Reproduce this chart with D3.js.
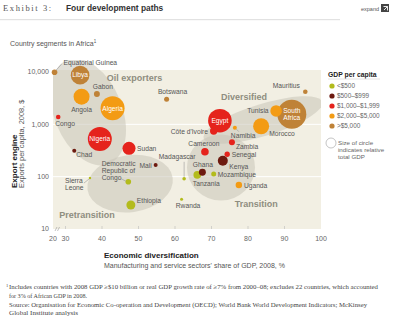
<!DOCTYPE html>
<html>
<head>
  <meta charset="utf-8">
  <script src="https://cdn.jsdelivr.net/npm/d3@7"></script>
  <style>
    body { margin: 0; background: #fff; }
    text { font-family: "Liberation Sans", Arial, sans-serif; }
    .serif { font-family: "Liberation Serif", "Times New Roman", serif; }
  </style>
</head>
<body>
<script>
  // ---- data ----
  var countries = ["Equatorial Guinea", "Libya", "Gabon", "Angola", "Algeria", "Botswana", "Congo",
    "Nigeria", "Chad", "Sudan", "Mali", "Madagascar", "Democratic Republic of Congo", "Sierra Leone",
    "Ethiopia", "Rwanda", "Côte d'Ivoire", "Egypt", "Namibia", "Morocco", "Tunisia", "South Africa",
    "Mauritius", "Cameroon", "Zambia", "Senegal", "Kenya", "Ghana", "Tanzania", "Mozambique", "Uganda"];
  // manufacturing & service share of GDP, %
  var diversification = [27, 34, 38.6, 34.4, 42.9, 57.7, 28, 39.4, 32.4, 47.4, 54.7, 62.5, 47.2, 36.7,
    47.9, 61.8, 70.6, 72.3, 76.4, 83.6, 87.7, 92, 95.7, 68.2, 75.6, 74.3, 73.1, 67.5, 66.1, 70.6, 77.5];
  // exports per capita, $
  var exportsPerCapita = [9900, 8700, 3800, 3380, 2030, 3010, 1380, 525, 313, 348, 167, 91, 80, 94,
    28.8, 37, 746, 1175, 863, 918, 1800, 1556, 4200, 300, 454, 268, 202, 121, 108, 112, 69];
  // relative total GDP, $ billion (estimated from circle size)
  var totalGdp = [9.8, 108, 11, 80, 179, 7.8, 6.6, 179, 5, 53, 5, 4, 9.8, 1.8, 25, 2.8, 17, 173, 5,
    80, 42, 262, 6.6, 18, 11, 9, 31, 15, 18, 7.8, 13];
  // GDP per capita band index
  var gdpBand = [4, 4, 4, 3, 3, 4, 2, 2, 1, 2, 1, 0, 0, 0, 0, 0, 2, 2, 3, 3, 3, 4, 4, 2, 2, 2, 1, 1, 0, 0, 3];

  var bands = ["<$500", "$500–$999", "$1,000–$1,999", "$2,000–$5,000", ">$5,000"];
  var bandColors = ["#b3bb1c", "#6d1a0f", "#e5231c", "#f39b14", "#bf8237"];

  var segments = ["Oil exporters", "Diversified", "Transition", "Pretransition"];
  var segmentX = [36.2, 84.1, 72.6, 47.7];
  var segmentY = [1720, 1210, 150, 73.5];
  var segmentLabelX = [41.3, 72.6, 76.4, 28.3];
  var segmentLabelY = [6730, 2855, 26.3, 16.2];

  var yTicks = [10, 100, 1000, 10000];
  var xTicks = [30, 40, 50, 60, 70, 80, 90, 100];

  // ---- layout ----
  var W = 400, H = 327;
  var plot = { left: 53, right: 321, top: 70, bottom: 229 };

  var x = d3.scaleLinear().domain([30, 100]).range([65.5, 321]);
  var y = d3.scaleLog().domain([10, 10000]).range([229, 72]);
  var r = d3.scaleSqrt().domain([0, 262]).range([0, 14.5]);

  // ellipse shapes (px) and rotation for segments
  var segShape = [[34, 56, -22], [62, 16, -17], [34, 33, 0], [43, 28.5, -8]];

  // label placement: [dx, dy, anchor, inside]
  var place = {
    "Equatorial Guinea": [9, -7, "start"], "Libya": [0, 2.3, "middle", 1], "Gabon": [6, -5, "middle"],
    "Angola": [0, 15, "middle"], "Algeria": [0, 2.3, "middle", 1], "Botswana": [6, -5.5, "middle"],
    "Congo": [-3, 9, "start"], "Nigeria": [0, 2.3, "middle", 1], "Chad": [2, 6.3, "start"],
    "Sudan": [8, 2.5, "start"], "Mali": [-4, 3, "end"], "Madagascar": [-7, -20, "middle"],
    "Democratic Republic of Congo": [-26.6, -16, "start"], "Sierra Leone": [-25, 5, "start"],
    "Ethiopia": [6, -2, "start"], "Rwanda": [6.5, 9, "middle"], "Côte d'Ivoire": [-5.6, 3.5, "end"],
    "Egypt": [0, 2.3, "middle", 1], "Namibia": [-4, 10, "start"], "Morocco": [8, 10, "start"],
    "Tunisia": [-7.5, 2.5, "end"], "South Africa": [0, -1.5, "middle", 1], "Mauritius": [-5.5, -4, "end"],
    "Cameroon": [-1, -6, "middle"], "Zambia": [4, 7, "start"], "Senegal": [4.5, 2.3, "start"],
    "Kenya": [6.5, 8, "start"], "Ghana": [0.5, -5, "middle"], "Tanzania": [9, 11, "middle"],
    "Mozambique": [4, 2.5, "start"], "Uganda": [5, 2.8, "start"]
  };
  var lineBreaks = {
    "Democratic Republic of Congo": ["Democratic", "Republic of", "Congo"],
    "Sierra Leone": ["Sierra", "Leone"], "South Africa": ["South", "Africa"]
  };
  var leaders = {
    "Equatorial Guinea": [[1.5, -2], [7, -8]], "Madagascar": [[0, -2], [0, -17]],
    "Democratic Republic of Congo": [[-2.5, -0.5], [-7, -3]], "Sierra Leone": [[-1, 1], [-6, 5]],
    "Namibia": [[1.5, 1.5], [4, 4]]
  };

  var svg = d3.select("body").append("svg").attr("width", W).attr("height", H);

  // ---- header ----
  svg.append("text").attr("class", "serif").attr("x", 3).attr("y", 11)
    .style("font-size", "8.5px").style("letter-spacing", "1.6px").attr("fill", "#555").text("Exhibit 3:");
  svg.append("text").attr("x", 66).attr("y", 11).style("font-size", "8.4px").style("font-weight", "bold")
    .attr("fill", "#333").text("Four development paths");
  svg.append("text").attr("x", 379).attr("y", 10.5).attr("text-anchor", "end").style("font-size", "5.5px")
    .attr("fill", "#555").text("expand");
  svg.append("rect").attr("x", 381).attr("y", 4).attr("width", 8).attr("height", 8).attr("fill", "#444");
  svg.append("path").attr("d", "M383.5,6.5 h4 v4 M387.5,6.5 l-3.5,3.5").attr("stroke", "#fff")
    .attr("stroke-width", 0.9).attr("fill", "none");
  svg.append("rect").attr("x", 0).attr("y", 19).attr("width", 340).attr("height", 1.2).attr("fill", "#e2e2e2");

  svg.append("text").attr("x", 10).attr("y", 45.5).style("font-size", "7px").attr("fill", "#555")
    .text("Country segments in Africa").append("tspan").attr("dy", -2.5).style("font-size", "4.5px").text("1");

  // ---- plot background ----
  svg.append("defs").append("clipPath").attr("id", "plotClip").append("rect")
    .attr("x", plot.left).attr("y", plot.top - 10).attr("width", plot.right - plot.left)
    .attr("height", plot.bottom - plot.top + 10);
  svg.append("rect").attr("x", plot.left).attr("y", plot.top).attr("width", plot.right - plot.left)
    .attr("height", plot.bottom - plot.top).attr("fill", "#f2efe3");

  // gridlines
  svg.selectAll(".grid").data([100, 1000]).enter().append("line")
    .attr("x1", plot.left).attr("x2", plot.right).attr("y1", function(d) { return y(d); })
    .attr("y2", function(d) { return y(d); }).attr("stroke", "#fff").attr("stroke-width", 1);

  // segment ellipses
  var segG = svg.append("g").attr("clip-path", "url(#plotClip)");
  segments.forEach(function(s, i) {
    segG.append("ellipse")
      .attr("transform", "translate(" + x(segmentX[i]) + "," + y(segmentY[i]) + ") rotate(" + segShape[i][2] + ")")
      .attr("rx", segShape[i][0]).attr("ry", segShape[i][1])
      .attr("fill", "#c9c5b8").attr("fill-opacity", 0.55);
  });
  svg.selectAll(".seglabel").data(segments).enter().append("text")
    .attr("x", function(d, i) { return x(segmentLabelX[i]); })
    .attr("y", function(d, i) { return y(segmentLabelY[i]); })
    .style("font-size", "9px").style("font-weight", "bold").attr("fill", "#8e8d7f").text(function(d) { return d; });

  // axes ticks
  svg.selectAll(".yt").data(yTicks).enter().append("text")
    .attr("x", 49).attr("y", function(d) { return y(d); }).attr("dy", "0.35em").attr("text-anchor", "end")
    .style("font-size", "7px").attr("fill", "#666").text(d3.format(","));
  svg.selectAll(".xt").data(xTicks).enter().append("text")
    .attr("x", function(d) { return x(d); }).attr("y", 240.5).attr("text-anchor", "middle")
    .style("font-size", "7px").attr("fill", "#666").text(function(d) { return d; });
  svg.selectAll(".xtm").data(xTicks.slice(0, -1)).enter().append("line")
    .attr("x1", function(d) { return x(d); }).attr("x2", function(d) { return x(d); })
    .attr("y1", plot.bottom - 3).attr("y2", plot.bottom).attr("stroke", "#bbb").attr("stroke-width", 0.6);
  svg.append("text").attr("x", 53).attr("y", 240.5).attr("text-anchor", "middle")
    .style("font-size", "7px").attr("fill", "#666").text("20");
  svg.append("path").attr("d", "M55,231 l2,-4 M57.5,231 l2,-4").attr("stroke", "#999")
    .attr("stroke-width", 0.6).attr("fill", "none");

  // axis titles
  svg.append("text").attr("transform", "translate(16.5,188) rotate(-90)").style("font-size", "8px")
    .style("font-weight", "bold").attr("fill", "#222").text("Export engine");
  svg.append("text").attr("transform", "translate(24,188) rotate(-90)").style("font-size", "7.4px")
    .attr("fill", "#555").text("Exports per capita, 2008, $");
  svg.append("text").attr("x", 104).attr("y", 258).style("font-size", "8px").style("font-weight", "bold")
    .attr("fill", "#222").text("Economic diversification");
  svg.append("text").attr("x", 104).attr("y", 267.5).style("font-size", "7px").attr("fill", "#555")
    .text("Manufacturing and service sectors' share of GDP, 2008, %");

  // ---- bubbles ----
  var idx = d3.range(countries.length).sort(function(a, b) { return totalGdp[b] - totalGdp[a]; });
  svg.selectAll(".bubble").data(idx).enter().append("circle")
    .attr("cx", function(i) { return x(diversification[i]); })
    .attr("cy", function(i) { return y(exportsPerCapita[i]); })
    .attr("r", function(i) { return r(totalGdp[i]); })
    .attr("fill", function(i) { return bandColors[gdpBand[i]]; });

  // leader lines
  Object.keys(leaders).forEach(function(name) {
    var i = countries.indexOf(name), cx = x(diversification[i]), cy = y(exportsPerCapita[i]), l = leaders[name];
    svg.append("line").attr("x1", cx + l[0][0]).attr("y1", cy + l[0][1])
      .attr("x2", cx + l[1][0]).attr("y2", cy + l[1][1]).attr("stroke", "#999").attr("stroke-width", 0.6);
  });

  // labels
  countries.forEach(function(name, i) {
    var p = place[name], cx = x(diversification[i]), cy = y(exportsPerCapita[i]);
    var lines = lineBreaks[name] || [name];
    var t = svg.append("text").attr("x", cx + p[0]).attr("y", cy + p[1]).attr("text-anchor", p[2])
      .style("font-size", p[3] ? "6.6px" : "6.7px").attr("fill", p[3] ? "#fff" : "#555");
    lines.forEach(function(s, k) {
      t.append("tspan").attr("x", cx + p[0]).attr("dy", k ? 7.3 : 0).text(s);
    });
  });

  // ---- legend ----
  var lg = svg.append("g");
  lg.append("text").attr("x", 328).attr("y", 76.5).style("font-size", "6.8px").style("font-weight", "bold")
    .attr("fill", "#222").text("GDP per capita");
  lg.append("line").attr("x1", 328).attr("x2", 380).attr("y1", 79).attr("y2", 79).attr("stroke", "#e4e4e4");
  lg.selectAll(".lc").data(bands).enter().append("circle")
    .attr("cx", 332).attr("cy", function(d, i) { return 86 + i * 10; }).attr("r", 2.6)
    .attr("fill", function(d, i) { return bandColors[i]; });
  lg.selectAll(".lt").data(bands).enter().append("text")
    .attr("x", 337).attr("y", function(d, i) { return 86 + i * 10; }).attr("dy", "0.35em")
    .style("font-size", "6.4px").attr("fill", "#666").text(function(d) { return d; });
  lg.append("circle").attr("cx", 331).attr("cy", 143).attr("r", 5).attr("fill", "#fff")
    .attr("stroke", "#aaa").attr("stroke-width", 0.7);
  ["Size of circle", "indicates relative", "total GDP"].forEach(function(s, k) {
    lg.append("text").attr("x", 338).attr("y", 145 + k * 7).style("font-size", "6.2px").attr("fill", "#666").text(s);
  });

  // ---- footnotes ----
  var notes = [
    [9, 289, "Includes countries with 2008 GDP ≥$10 billion or real GDP growth rate of ≥7% from 2000–08; excludes 22 countries, which accounted", 369],
    [9, 297.5, "for 3% of African GDP in 2008.", 78],
    [9, 307, "Source: Organisation for Economic Co-operation and Development (OECD); World Bank World Development Indicators; McKinsey", 358],
    [9, 315, "Global Institute analysis", 69]
  ];
  svg.append("text").attr("class", "serif").attr("x", 6).attr("y", 287).style("font-size", "4.5px")
    .attr("fill", "#444").text("1");
  notes.forEach(function(n) {
    svg.append("text").attr("class", "serif").attr("x", n[0]).attr("y", n[1]).style("font-size", "6.5px")
      .attr("fill", "#444").attr("textLength", n[3]).attr("lengthAdjust", "spacingAndGlyphs").text(n[2]);
  });
</script>
</body>
</html>
